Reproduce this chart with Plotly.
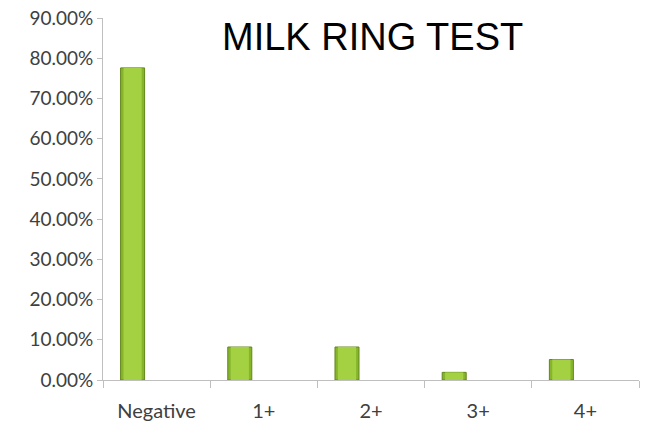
import plotly.graph_objects as go

categories = ["Negative", "1+", "2+", "3+", "4+"]
percent_values = [0.776, 0.082, 0.082, 0.019, 0.051]
y_tick_values = [0.0, 0.1, 0.2, 0.3, 0.4, 0.5, 0.6, 0.7, 0.8, 0.9]

fig = go.Figure()
# darker outer body of each bar
fig.add_trace(go.Bar(
    x=categories,
    y=percent_values,
    width=0.224,
    offset=-0.336,
    marker=dict(color="#86b52c", line=dict(color="#62861c", width=1)),
    hoverinfo="x+y",
))
# lighter centre strip for a shaded look
fig.add_trace(go.Bar(
    x=categories,
    y=percent_values,
    width=0.17,
    offset=-0.309,
    marker=dict(color="#a3d142", line=dict(width=0)),
    hoverinfo="skip",
))

fig.add_annotation(
    text="MILK RING TEST",
    xref="paper", yref="paper",
    x=0.502, y=0.9475,
    xanchor="center", yanchor="middle",
    showarrow=False,
    font=dict(family="Liberation Sans, Arial, sans-serif", size=38, color="#000000"),
)

fig.update_layout(
    width=645, height=430,
    margin=dict(l=103, r=6, t=18, b=50),
    paper_bgcolor="white", plot_bgcolor="white",
    showlegend=False,
    font=dict(family="Lato, sans-serif", size=19, color="#404040"),
    barmode="overlay",
)
fig.update_xaxes(
    range=[-0.5, 4.5],
    showline=True, linecolor="#bfbfbf", linewidth=1,
    ticks="outside", tickson="boundaries", ticklen=7, tickcolor="#bfbfbf",
    showgrid=False,
    ticklabelstandoff=13,
    tickfont=dict(size=20, color="#404040"),
)
fig.update_yaxes(
    range=[0, 0.9],
    tickvals=y_tick_values, tickformat=".2%",
    showline=True, linecolor="#bfbfbf", linewidth=1,
    ticks="outside", ticklen=5, tickcolor="#bfbfbf",
    showgrid=False, zeroline=False,
    tickfont=dict(size=19, color="#404040"),
)

fig.write_html("out.html")
